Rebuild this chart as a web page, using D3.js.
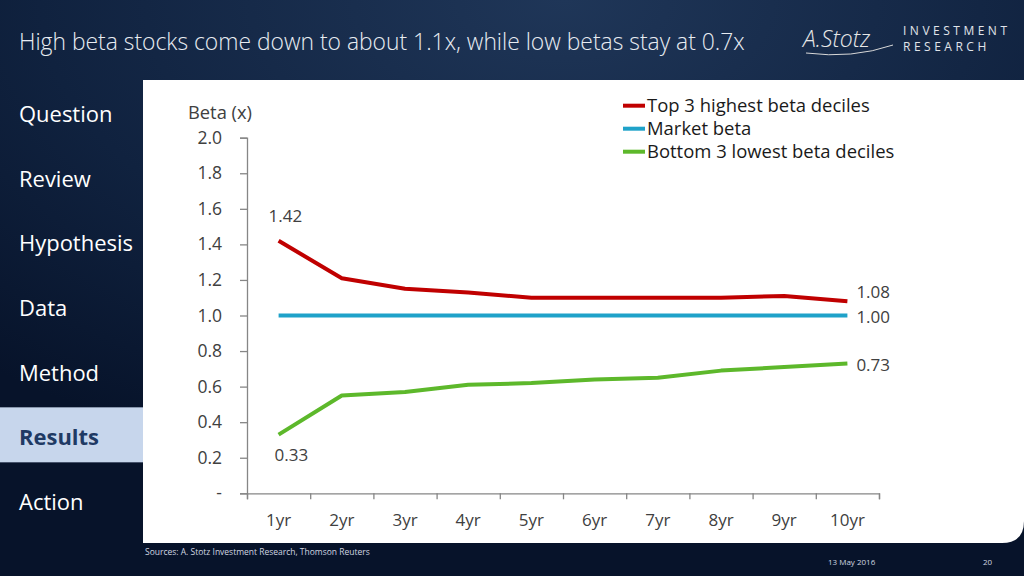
<!DOCTYPE html>
<html>
<head>
<meta charset="utf-8">
<script src="https://cdn.jsdelivr.net/npm/d3@7.9.0/dist/d3.min.js"></script>
<style>
  html, body { margin: 0; padding: 0; background: #0b1a33; }
  svg { display: block; }
  text { font-family: "Open Sans", "Noto Sans", sans-serif; }
</style>
</head>
<body>
<svg id="chart" width="1024" height="576"></svg>
<script>
// chart data
const years = ["1yr", "2yr", "3yr", "4yr", "5yr", "6yr", "7yr", "8yr", "9yr", "10yr"];
const highBeta = [1.42, 1.21, 1.15, 1.13, 1.10, 1.10, 1.10, 1.10, 1.11, 1.08];
const marketBeta = [1.00, 1.00, 1.00, 1.00, 1.00, 1.00, 1.00, 1.00, 1.00, 1.00];
const lowBeta = [0.33, 0.55, 0.57, 0.61, 0.62, 0.64, 0.65, 0.69, 0.71, 0.73];
const yTicks = [0, 0.2, 0.4, 0.6, 0.8, 1.0, 1.2, 1.4, 1.6, 1.8, 2.0];
const seriesNames = ["Top 3 highest beta deciles", "Market beta", "Bottom 3 lowest beta deciles"];
const seriesColors = ["#c00000", "#1fa2c9", "#5db82b"];
const navItems = ["Question", "Review", "Hypothesis", "Data", "Method", "Results", "Action"];
const activeNav = "Results";

const svg = d3.select("#chart");

// shrink / grow a text's font size so it covers a given width
function fitWidth(sel, target) {
  const node = sel.node();
  const fs = parseFloat(sel.attr("font-size"));
  const w = node.getComputedTextLength();
  sel.attr("font-size", (fs * target / w).toFixed(2));
}
// spread letters so a text covers a given width
function spreadWidth(sel, target) {
  const node = sel.node();
  const n = sel.text().length;
  const w = node.getComputedTextLength();
  sel.attr("letter-spacing", ((target - w) / (n - 1)).toFixed(2));
}

// background
const defs = svg.append("defs");
const bg = defs.append("radialGradient").attr("id", "bg")
  .attr("cx", "55%").attr("cy", "0%").attr("r", "85%");
bg.append("stop").attr("offset", "0%").attr("stop-color", "#1f3658");
bg.append("stop").attr("offset", "60%").attr("stop-color", "#10223f");
bg.append("stop").attr("offset", "100%").attr("stop-color", "#07132a");
svg.append("rect").attr("width", 1024).attr("height", 576).attr("fill", "url(#bg)");

// white panel with rounded bottom-right corner
const pL = 143, pT = 80, pR = 1024, pB = 543, rad = 22;
svg.append("path")
  .attr("d", `M${pL},${pT}H${pR}V${pB - rad}Q${pR},${pB} ${pR - rad},${pB}H${pL}Z`)
  .attr("fill", "#ffffff");

// title
const title = svg.append("text")
  .attr("x", 19).attr("y", 50)
  .attr("font-size", 20).attr("fill", "#e8ecf2").attr("font-weight", 300)
  .text("High beta stocks come down to about 1.1x, while low betas stay at 0.7x");
fitWidth(title, 726);

// logo
svg.append("text")
  .attr("x", 803).attr("y", 47)
  .attr("font-family", "DejaVu Serif").attr("font-style", "italic")
  .attr("font-size", 23).attr("fill", "#e6e6e6").attr("font-weight", 300)
  .text("A.Stotz");
svg.append("path")
  .attr("d", "M806,53 Q852,59 893,45")
  .attr("fill", "none").attr("stroke", "#d8d8d8").attr("stroke-width", 1);
const logo1 = svg.append("text").attr("x", 903).attr("y", 34.5)
  .attr("font-size", 12).attr("fill", "#e0e4ea")
  .text("INVESTMENT");
spreadWidth(logo1, 104);
const logo2 = svg.append("text").attr("x", 903).attr("y", 50.5)
  .attr("font-size", 12).attr("fill", "#e0e4ea")
  .attr("letter-spacing", logo1.attr("letter-spacing"))
  .text("RESEARCH");

// navigation
const navY = d3.scalePoint().domain(navItems).range([114, 502]);
svg.append("rect")
  .attr("x", 0).attr("y", navY(activeNav) - 30).attr("width", pL).attr("height", 55)
  .attr("fill", "#c7d6ec");
const navText = svg.append("g").selectAll("text").data(navItems).join("text")
  .attr("x", 19).attr("y", d => navY(d)).attr("dy", "0.36em")
  .attr("font-size", 21)
  .attr("font-weight", d => d === activeNav ? 700 : 400)
  .attr("fill", d => d === activeNav ? "#1f3a64" : "#ffffff")
  .text(d => d);
{
  const hyp = navText.filter(d => d === "Hypothesis");
  fitWidth(hyp, 114);
  navText.attr("font-size", hyp.attr("font-size"));
}

// scales
const x0 = 247, x1 = 879, yBase = 493.3, yTop = 137.7;
const x = d3.scaleBand().domain(years).range([x0, x1]);
const xEdge = d3.scaleLinear().domain([0, years.length]).range([x0, x1]);
const y = d3.scaleLinear().domain([0, 2]).range([yBase, yTop]);
const axisColor = "#868686";
const textColor = "#404040";
const fs = 17;

// y axis
const yAxis = svg.append("g")
  .attr("transform", `translate(${x0},0)`)
  .call(d3.axisLeft(y).tickValues(yTicks).tickSize(7).tickPadding(18)
    .tickFormat(d => d === 0 ? "-" : d3.format(".1f")(d)));
yAxis.select(".domain").attr("stroke", axisColor).attr("stroke-width", 1.3);
yAxis.selectAll(".tick line").attr("stroke", axisColor).attr("stroke-width", 1.3);
yAxis.selectAll(".tick text").attr("font-size", 17.5).attr("fill", textColor)
  .attr("font-family", "Open Sans");

// x axis with ticks at band edges
const xAxis = svg.append("g")
  .attr("transform", `translate(0,${yBase})`)
  .call(d3.axisBottom(xEdge).tickValues(d3.range(years.length + 1)).tickSize(6).tickFormat(""));
xAxis.select(".domain").attr("stroke", axisColor).attr("stroke-width", 1.3);
xAxis.selectAll(".tick line").attr("stroke", axisColor).attr("stroke-width", 1.3);
svg.append("g").selectAll("text").data(years).join("text")
  .attr("x", d => x(d) + x.bandwidth() / 2)
  .attr("y", 526)
  .attr("text-anchor", "middle")
  .attr("font-size", fs).attr("fill", textColor)
  .text(d => d);

// y axis title
const yTitle = svg.append("text").attr("x", 188).attr("y", 119)
  .attr("font-size", 16).attr("fill", textColor)
  .text("Beta (x)");
fitWidth(yTitle, 64);

// lines
const allSeries = [highBeta, marketBeta, lowBeta];
const line = d3.line()
  .x((d, i) => x(years[i]) + x.bandwidth() / 2)
  .y(d => y(d));
svg.append("g").selectAll("path").data(allSeries).join("path")
  .attr("d", line)
  .attr("fill", "none")
  .attr("stroke", (d, i) => seriesColors[i])
  .attr("stroke-width", 4)
  .attr("stroke-linejoin", "round");

// data labels
const cx = i => x(years[i]) + x.bandwidth() / 2;
const last = years.length - 1;
const labels = [
  { x: cx(0) - 10, y: y(highBeta[0]) - 25, v: highBeta[0] },
  { x: cx(0) - 4, y: y(lowBeta[0]) + 20, v: lowBeta[0] },
  { x: cx(last) + 9, y: y(highBeta[last]) - 9, v: highBeta[last] },
  { x: cx(last) + 9, y: y(marketBeta[last]) + 1, v: marketBeta[last] },
  { x: cx(last) + 9, y: y(lowBeta[last]) + 1, v: lowBeta[last] }
];
svg.append("g").selectAll("text").data(labels).join("text")
  .attr("x", d => d.x).attr("y", d => d.y).attr("dy", "0.36em")
  .attr("font-size", fs).attr("fill", textColor)
  .text(d => d3.format(".2f")(d.v));

// legend
const legY = d3.scalePoint().domain(seriesNames).range([105.7, 151.7]);
const leg = svg.append("g").selectAll("g").data(seriesNames).join("g")
  .attr("transform", d => `translate(623,${legY(d)})`);
leg.append("line").attr("x1", 0).attr("x2", 22)
  .attr("stroke", (d, i) => seriesColors[i]).attr("stroke-width", 4);
const legText = leg.append("text").attr("x", 24).attr("dy", "0.36em")
  .attr("font-size", 17).attr("fill", "#1a1a1a")
  .text(d => d);
{
  const first = legText.filter((d, i) => i === 0);
  fitWidth(first, 223);
  legText.attr("font-size", first.attr("font-size"));
}

// footer
const src = svg.append("text").attr("x", 145).attr("y", 555)
  .attr("font-size", 8).attr("fill", "#d0d6e0")
  .text("Sources: A. Stotz Investment Research, Thomson Reuters");
fitWidth(src, 225);
svg.append("text").attr("x", 828).attr("y", 565)
  .attr("font-size", 8).attr("fill", "#d0d6e0").text("13 May 2016");
svg.append("text").attr("x", 983).attr("y", 565)
  .attr("font-size", 8).attr("fill", "#d0d6e0").text("20");
</script>
</body>
</html>
